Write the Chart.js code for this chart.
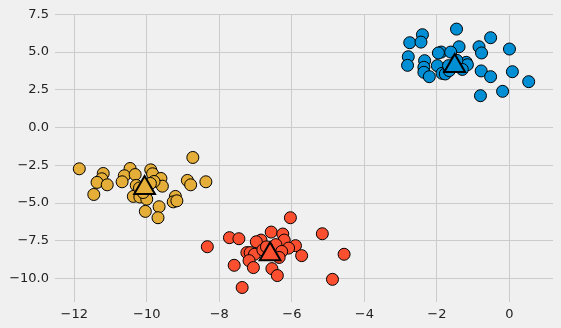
<!DOCTYPE html>
<html>
<head>
<meta charset="utf-8">
<script src="https://cdn.jsdelivr.net/npm/chart.js@4/dist/chart.umd.min.js"></script>
<style>
  html, body { margin: 0; padding: 0; background: #f0f0f0; overflow: hidden; }
  canvas { display: block; }
</style>
</head>
<body>
<canvas id="chart" width="561" height="328"></canvas>
<script>
// cluster points
const blueX = [-1.46, -2.40, -2.75, -2.44, -0.52, -1.39, -0.84, 0.0, -2.79, -1.88, -1.96, -1.62, -0.77, -2.34, -2.81, -1.99, -2.36, -1.19, -1.16, -2.36, -2.21, -1.86, -1.77, -1.66, -0.78, -0.52, 0.08, 0.53, -0.19, -0.80, -1.68, -1.45, -1.30];
const blueY = [6.52, 6.15, 5.62, 5.66, 5.95, 5.35, 5.35, 5.2, 4.69, 5.0, 4.94, 5.0, 4.94, 4.43, 4.12, 4.10, 3.99, 4.32, 4.16, 3.66, 3.37, 3.59, 3.55, 3.77, 3.75, 3.37, 3.70, 3.04, 2.40, 2.11, 4.1, 4.45, 3.85];

const orangeX = [-8.73, -11.86, -10.46, -10.62, -10.68, -10.32, -11.20, -11.24, -11.37, -11.09, -11.46, -9.89, -9.84, -9.61, -9.57, -9.80, -10.29, -10.37, -10.19, -10.00, -8.88, -8.79, -8.37, -9.21, -9.27, -9.17, -9.66, -10.04, -9.69, -10.2, -9.9, -10.1];
const orangeY = [-1.98, -2.73, -2.71, -3.19, -3.59, -3.11, -3.04, -3.39, -3.63, -3.79, -4.43, -2.80, -3.06, -3.37, -3.88, -3.57, -3.83, -4.56, -4.60, -4.74, -3.50, -3.79, -3.59, -4.56, -4.92, -4.85, -5.24, -5.55, -5.97, -4.0, -3.7, -4.3];

const redX = [-6.04, -5.16, -8.33, -7.72, -7.46, -6.85, -6.98, -6.57, -6.25, -6.21, -6.44, -5.90, -6.09, -6.28, -5.73, -4.56, -7.24, -7.15, -7.03, -7.18, -7.59, -7.06, -6.55, -6.40, -4.88, -7.37, -6.8, -6.35, -6.7];
const redY = [-5.97, -7.03, -7.89, -7.29, -7.36, -7.45, -7.56, -6.92, -7.05, -7.45, -7.75, -7.82, -7.98, -8.20, -8.48, -8.39, -8.28, -8.28, -8.39, -8.81, -9.12, -9.27, -9.34, -9.80, -10.05, -10.59, -8.1, -8.6, -7.9];

// centroids (triangles)
const centerX = [-1.51, -10.06, -6.60];
const centerY = [4.08, -4.0, -8.38];

const colors = ["#008fd5", "#e5ae38", "#fc4f30"];

const xTicks = [-12, -10, -8, -6, -4, -2, 0];
const yTicks = [-10, -7.5, -5, -2.5, 0, 2.5, 5, 7.5];

const toPoints = (xs, ys) => xs.map((x, i) => ({ x: x, y: ys[i] }));
const minus = (s) => s.replace("-", "\u2212");

const clusters = [[blueX, blueY], [orangeX, orangeY], [redX, redY]];

const datasets = [];
clusters.forEach((c, i) => {
	datasets.push({
		data: toPoints(c[0], c[1]),
		backgroundColor: colors[i],
		borderColor: "#000000",
		borderWidth: 1,
		pointRadius: 6,
		order: 1,
	});
});
centerX.forEach((x, i) => {
	datasets.push({
		data: [{ x: x, y: centerY[i] }],
		backgroundColor: colors[i],
		borderColor: "#000000",
		borderWidth: 2,
		pointStyle: "triangle",
		pointRadius: 12,
		order: 0,
	});
});

const font = { family: "DejaVu Sans", size: 13 };

new Chart(document.getElementById("chart").getContext("2d"), {
	type: "scatter",
	data: { datasets },
	options: {
		responsive: false,
		animation: false,
		devicePixelRatio: 1,
		layout: { autoPadding: false, padding: { top: 14, right: 8, left: 0, bottom: 0 } },
		plugins: { legend: { display: false }, tooltip: { enabled: false } },
		scales: {
			x: {
				type: "linear",
				min: -12.53,
				max: 1.2,
				afterBuildTicks: (s) => { s.ticks = xTicks.map((v) => ({ value: v })); },
				afterFit: (s) => {
					s.height = 26;
					s.paddingLeft = 0;
					s.paddingRight = 0;
				},
				border: { display: false },
				grid: { color: "#cbcbcb", lineWidth: 1, drawTicks: false },
				ticks: {
					font,
					color: "#222222",
					padding: 5,
					maxRotation: 0,
					autoSkip: false,
					callback: (v) => minus(String(v)),
				},
			},
			y: {
				type: "linear",
				min: -11.55,
				max: 7.52,
				afterBuildTicks: (s) => { s.ticks = yTicks.map((v) => ({ value: v })); },
				afterFit: (s) => { s.width = 55; },
				border: { display: false },
				grid: { color: "#cbcbcb", lineWidth: 1, drawTicks: false },
				ticks: {
					font,
					color: "#222222",
					padding: 6,
					autoSkip: false,
					callback: (v) => minus(v.toFixed(1)),
				},
			},
		},
	},
	plugins: [{
		id: "bg",
		beforeDraw: (chart) => {
			const ctx = chart.ctx;
			ctx.save();
			ctx.fillStyle = "#f0f0f0";
			ctx.fillRect(0, 0, chart.width, chart.height);
			ctx.restore();
		},
	}],
});
</script>
</body>
</html>
